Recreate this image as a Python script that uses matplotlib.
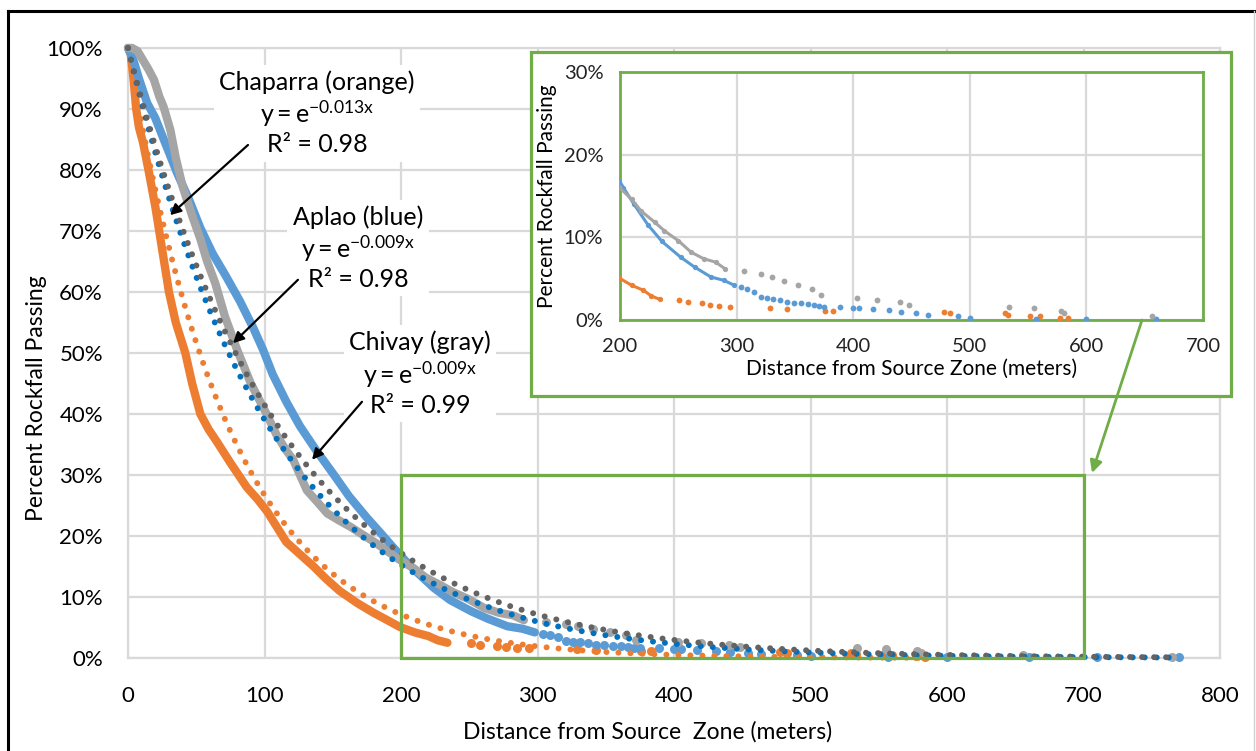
import numpy as np
import matplotlib
matplotlib.use("Agg")
import matplotlib.pyplot as plt
from matplotlib.patches import Rectangle, FancyArrowPatch
from matplotlib.lines import Line2D

plt.rcParams['font.family'] = ['Lato', 'DejaVu Sans']
plt.rcParams['mathtext.fontset'] = 'custom'
plt.rcParams['mathtext.rm'] = 'Lato'
plt.rcParams['mathtext.it'] = 'Lato:italic'
plt.rcParams['mathtext.bf'] = 'Lato:bold'

# ---------------- data ----------------
# Chaparra (orange) observed, dense part
chap_x = [0, 2, 4, 6, 8, 11, 15, 20, 25, 30, 35, 42, 47, 53, 59, 65, 75, 87, 95, 102, 109,
          116, 126, 136, 145, 155, 168, 180, 190, 199, 210, 220, 227, 234]
chap_y = [100, 99, 95, 90, 87, 84.5, 80, 74, 67, 60, 55, 50, 45, 40, 37.5, 35.5, 32, 28, 26, 24, 21.5,
          19, 17, 15, 13, 11, 9, 7.4, 6.2, 5.1, 4.2, 3.6, 2.9, 2.5]
# Chaparra sparse tail
chap_tail_x = [251, 258, 270, 277, 285, 294, 329, 343, 376, 383, 478, 483, 530, 533, 552, 560, 577, 584]
chap_tail_y = [2.4, 2.2, 2.0, 1.8, 1.7, 1.6, 1.4, 1.3, 1.1, 1.1, 1.0, 0.8, 0.8, 0.6, 0.5, 0.5, 0.3, 0.2]

# Aplao (blue) observed, dense part
apl_x = [0, 4, 8, 14, 20, 28, 36, 45, 53, 62, 72, 82, 92, 99, 106, 116, 126, 138, 150, 162,
         175, 185, 194, 203, 212, 224, 236, 252, 264, 278, 289, 298]
apl_y = [100, 98, 95, 91, 88.5, 84, 79.5, 75, 70.5, 66.3, 62.5, 58.5, 54, 50.5, 46.5, 42, 38, 34, 30.3, 26.5,
         23, 20.5, 18.2, 16, 14, 11.5, 9.5, 7.6, 6.4, 5.2, 4.8, 4.2]
# Aplao sparse tail
apl_tail_x = [304, 309, 315, 321, 326, 331, 337, 343, 349, 355, 361, 366, 371, 375, 389, 400, 405,
              417, 431, 441, 454, 464, 490, 500, 557, 600, 660, 710, 770]
apl_tail_y = [4.0, 3.8, 3.4, 2.8, 2.7, 2.6, 2.4, 2.2, 2.1, 2.0, 1.9, 1.8, 1.7, 1.6, 1.6, 1.5, 1.4,
              1.3, 1.2, 1.0, 0.8, 0.6, 0.5, 0.3, 0.1, 0.1, 0.1, 0.1, 0.1]

# Chivay (gray) observed, dense part
chiv_x = [0, 3, 7, 11, 15, 19, 23, 26, 31, 35, 40, 47, 53, 58, 64, 71, 80, 90, 102, 109, 116, 121,
          131, 139, 146, 155, 163, 172, 182, 190, 199, 210, 218, 230, 238, 250, 261, 272, 282, 290]
chiv_y = [100, 100, 99.5, 98, 96.5, 94.8, 92, 90.4, 86.6, 82, 77.3, 72.5, 68.7, 65, 61.4, 56, 50.5, 45, 39.8, 36.5, 34, 32.5,
          27.5, 25.5, 23.7, 22.5, 21.5, 20.2, 18.8, 17.5, 16.1, 14.6, 13.2, 11.8, 10.8, 9.6, 8.2, 7.4, 7.0, 6.2]
# Chivay sparse tail
chiv_tail_x = [306, 321, 330, 341, 353, 365, 372, 403, 420, 440, 448, 534, 555, 578, 581, 656, 765]
chiv_tail_y = [5.9, 5.6, 5.2, 4.7, 4.2, 3.8, 3.0, 2.7, 2.4, 2.2, 1.8, 1.6, 1.4, 1.1, 0.8, 0.5, 0.2]

# exponential trendline coefficients y = exp(-k x)
trend_k = {'Chaparra': 0.0132, 'Aplao': 0.0094, 'Chivay': 0.0088}

labels = {
    'Chaparra': ("Chaparra (orange)", "-0.013x", "0.98"),
    'Aplao': ("Aplao (blue)", "-0.009x", "0.98"),
    'Chivay': ("Chivay (gray)", "-0.009x", "0.99"),
}

x_ticks = [0, 100, 200, 300, 400, 500, 600, 700, 800]
y_ticks = [0, 10, 20, 30, 40, 50, 60, 70, 80, 90, 100]
inset_x_ticks = [200, 300, 400, 500, 600, 700]
inset_y_ticks = [0, 10, 20, 30]

# ---------------- styles ----------------
C_OR = '#ED7D31'
C_BL = '#5B9BD5'
C_GR = '#A5A5A5'
T_OR = '#ED7D31'
T_BL = '#0070C0'
T_GR = '#636363'
GREEN = '#70AD47'
GRID = '#D9D9D9'

series = [
    ('Chaparra', chap_x, chap_y, chap_tail_x, chap_tail_y, C_OR, T_OR),
    ('Aplao', apl_x, apl_y, apl_tail_x, apl_tail_y, C_BL, T_BL),
    ('Chivay', chiv_x, chiv_y, chiv_tail_x, chiv_tail_y, C_GR, T_GR),
]

W, H = 1256, 751
fig = plt.figure(figsize=(12.56, 7.51), dpi=100)

def fx(px):
    return px / W

def fy(py):
    return 1 - py / H

ax = fig.add_axes([fx(128), fy(658), fx(1220) - fx(128), fy(48) - fy(658)])
ax.set_xlim(0, 800)
ax.set_ylim(0, 100)
ax.set_xticks(x_ticks)
ax.set_yticks(y_ticks)
ax.set_yticklabels([f"{v}%" for v in y_ticks])
ax.grid(True, color=GRID, lw=1.6)
ax.set_axisbelow(True)
for s in ax.spines.values():
    s.set_color(GRID)
    s.set_linewidth(1.6)
ax.tick_params(length=0, labelsize=16, colors='black')
ax.tick_params(axis='y', pad=18)
ax.tick_params(axis='x', pad=20)
ax.set_xlabel("Distance from Source  Zone (meters)", fontsize=16.5)
ax.set_ylabel("Percent Rockfall Passing", fontsize=16.5)
ax.xaxis.set_label_coords(0.476, -0.103)
ax.yaxis.set_label_coords(-0.074, 0.426)

# observed
for name, x, y, tx, ty, c, tc in series:
    ax.plot(x, y, color=c, lw=6.0, solid_capstyle='round', solid_joinstyle='round', zorder=3, clip_on=False)
    ax.plot(tx, ty, 'o', color=c, ms=6.5, mec='none', zorder=3, clip_on=False)
# trendlines
for name, x, y, tx, ty, c, tc in series:
    xmax = max(max(x), max(tx))
    xt = np.linspace(0, xmax, 400)
    ax.plot(xt, 100 * np.exp(-trend_k[name] * xt), color=tc, lw=4.3,
            linestyle=(0, (0.01, 2.0)), dash_capstyle='round', zorder=4, clip_on=False)

# highlight rectangle
ax.add_patch(Rectangle((200, 0), 500, 30, fill=False, edgecolor=GREEN, lw=2.3, zorder=5, clip_on=False))

# annotations
ann = {
    'Chaparra': ((138.5, 89.3), (87.9, 84.1), (30.8, 72.6)),
    'Aplao': ((168.5, 67.2), (124.5, 62.0), (76.9, 51.6)),
    'Chivay': ((214.0, 46.6), (171.4, 42.0), (134.8, 32.5)),
}
for name, (tpos, start, tip) in ann.items():
    l1, expo, r2 = labels[name]
    txt = f"{l1}\n" + r"$\mathregular{y = e^{" + expo + r"}}$" + f"\nR² = {r2}"
    ax.text(tpos[0], tpos[1], txt, ha='center', va='center', multialignment='center',
            fontsize=18, linespacing=1.2, zorder=6,
            bbox=dict(facecolor='white', edgecolor='none', pad=4))
    ax.annotate('', xy=tip, xytext=start,
                arrowprops=dict(arrowstyle='-|>', color='black', lw=1.6, mutation_scale=16,
                                shrinkA=0, shrinkB=0), zorder=7)

# inset frame
frame = Rectangle((fx(531), fy(396)), fx(1231) - fx(531), fy(52) - fy(396), transform=fig.transFigure,
                  facecolor='white', edgecolor=GREEN, lw=2.3, zorder=1)
fig.add_artist(frame)

axi = fig.add_axes([fx(620), fy(320), fx(1203) - fx(620), fy(72) - fy(320)])
axi.set_zorder(2)
axi.set_xlim(200, 700)
axi.set_ylim(0, 30)
axi.set_xticks(inset_x_ticks)
axi.set_yticks(inset_y_ticks)
axi.set_yticklabels([f"{v}%" for v in inset_y_ticks])
axi.grid(True, color=GRID, lw=1.6)
axi.set_axisbelow(True)
for s in axi.spines.values():
    s.set_color(GREEN)
    s.set_linewidth(2.0)
axi.tick_params(length=0, labelsize=14.5, colors='#222222')
axi.tick_params(axis='y', pad=12)
axi.tick_params(axis='x', pad=13)
axi.set_xlabel("Distance from Source Zone (meters)", fontsize=15, labelpad=3)
axi.set_ylabel("Percent Rockfall Passing", fontsize=15, labelpad=5)
for name, x, y, tx, ty, c, tc in series:
    axi.plot(x, y, color=c, lw=2.2, marker='o', ms=3.8, mec='none', zorder=3)
    axi.plot(tx, ty, 'o', color=c, ms=4.2, mec='none', zorder=3)

# green connector arrow
fig.add_artist(FancyArrowPatch((fx(1142), fy(320)), (fx(1092), fy(473)), transform=fig.transFigure,
                               arrowstyle='-|>', color=GREEN, lw=2, mutation_scale=18,
                               shrinkA=0, shrinkB=0, zorder=5))

# outer border
fig.add_artist(Line2D([fx(8), 1], [fy(11), fy(11)], transform=fig.transFigure, color='black', lw=2.2))
fig.add_artist(Line2D([fx(8), fx(8)], [0, fy(11)], transform=fig.transFigure, color='black', lw=2.2))
fig.add_artist(Line2D([fx(1254), fx(1254)], [0, fy(11)], transform=fig.transFigure, color='#D0D0D0', lw=1))

fig.savefig("out.png", dpi=100)
